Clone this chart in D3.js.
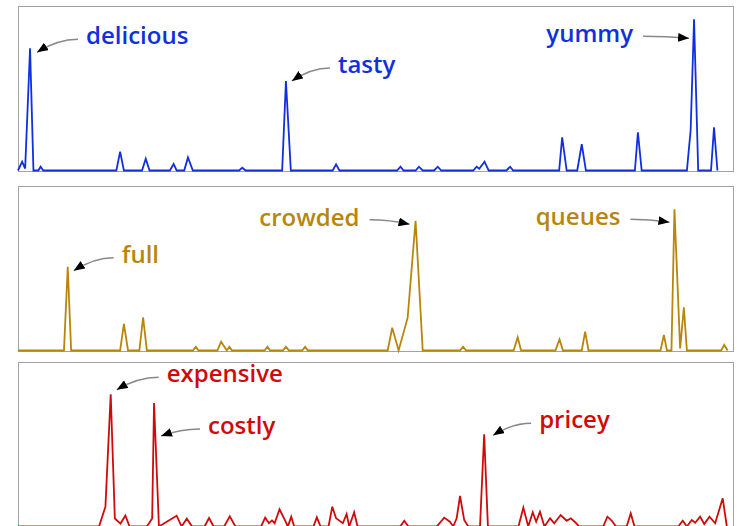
<!DOCTYPE html>
<html>
<head>
<meta charset="utf-8">
<script src="https://cdn.jsdelivr.net/npm/d3@7"></script>
<style>
  body { margin: 0; background: #fff; overflow: hidden; }
  .frame { fill: none; stroke: #a3a3a3; stroke-width: 1; }
  .word { font-family: "Open Sans", sans-serif; font-weight: 600; font-size: 24px; }
  .pointer { fill: none; stroke: #888; stroke-width: 1.5; }
</style>
</head>
<body>
<svg id="chart"></svg>
<script>
// mentions per day for each group of words (vertices of the traced line)
var tasteDays = [0, 1.1, 1.9, 3.2, 4.1, 5.4, 6.0, 6.7, 26.1, 27.1, 28.1, 32.9, 33.9, 34.9, 40.3, 41.3, 42.1,
  44.1, 45.1, 46.4, 58.7, 59.5, 60.4, 70.1, 71.1, 72.4, 83.5, 84.4, 85.3, 100.6, 101.5, 102.3, 105.5, 106.4,
  107.4, 110.4, 111.4, 112.3, 120.8, 121.7, 122.4, 123.8, 124.9, 129.6, 130.6, 131.4, 143.6, 144.4, 145.6,
  148.4, 149.6, 150.7, 163.7, 164.5, 165.5, 177.5, 178.5, 179.4, 180.5, 183.9, 184.7, 185.6];
var tasteValues = [0, 5.4, 1.2, 74.5, 0, 0, 2.3, 0, 0, 11.5, 0, 0, 7.2, 0, 0, 4, 0,
  0, 8, 0, 0, 1.7, 0, 0, 54.6, 0, 0, 3.8, 0, 0, 2.3, 0, 0, 2.3,
  0, 0, 2.3, 0, 0, 2.3, 1.1, 5.4, 0, 0, 2.3, 0, 0, 20.2, 0,
  0, 16, 0, 0, 23.3, 0, 0, 24.7, 92.2, 0, 0, 26.3, 0];

var crowdDays = [0, 12.2, 13.2, 14.1, 27.1, 28.1, 29.2, 32.2, 33.2, 34.2, 46.4, 47.2, 47.9, 52.9, 53.9,
  55.4, 56.1, 56.8, 65.4, 66.2, 66.9, 70.3, 71.1, 71.9, 75.4, 76.2, 76.9, 98.1, 99.3, 101.0, 103.4, 105.5,
  107.4, 117.3, 118.1, 118.9, 131.5, 132.6, 133.5, 142.6, 143.7, 144.6, 149.6, 150.5, 151.4, 170.5, 171.4,
  172.2, 173.4, 174.2, 175.7, 176.7, 177.5, 186.6, 187.4, 188.3];
var crowdValues = [0, 0, 51.1, 0, 0, 16.2, 0, 0, 20.2, 0, 0, 2.3, 0, 0, 5.4,
  0, 2.3, 0, 0, 2.3, 0, 0, 2.3, 0, 0, 2.3, 0, 0, 13.9, 0, 20, 79.1,
  0, 0, 2.3, 0, 0, 8, 0, 0, 6.8, 0, 0, 11.5, 0, 0, 9.5,
  0, 0, 86.1, 1.3, 26.3, 0, 0, 3.4, 0];

var priceDays = [0, 21.5, 23.2, 24.6, 25.7, 27.2, 28.5, 29.6, 34.2, 35.6, 36.1, 37.4, 42.1, 43.4, 44.8, 46.2,
  49.5, 50.7, 51.9, 54.7, 56.2, 57.7, 64.5, 65.6, 66.6, 67.4, 68.1, 69.4, 70.8, 71.6, 72.5, 73.3, 78.4, 79.3,
  80.3, 82.4, 83.4, 84.4, 86.2, 87.2, 87.9, 89.2, 90.1, 101.4, 102.5, 103.6, 111.1, 113.1, 114.6, 115.5, 116.4,
  117.3, 118.4, 119.5, 122.6, 123.7, 124.7, 132.8, 134.1, 135.4, 136.6, 137.5, 138.5, 139.7, 141.2, 142.3,
  144.0, 145.6, 146.7, 148.0, 148.9, 155.3, 156.4, 157.6, 158.7, 161.5, 162.6, 163.6, 175.2, 176.4, 177.5,
  178.8, 179.7, 181.0, 182.1, 183.5, 185.0, 187.0, 188.1];
var priceValues = [0, 0, 12.1, 80.6, 4.9, 1.8, 6.7, 0, 0, 4.9, 75.3, 0, 6.6, 0, 4.8, 0,
  0, 5.2, 0, 0, 6.2, 0, 0, 5.4, 2, 3.7, 2, 10.5, 4, 0, 6, 0, 0, 5.6,
  0, 0, 12.1, 5, 2, 7.6, 0, 8.7, 0, 0, 3.5, 0, 0, 5.4, 2.9, 0, 5,
  18.6, 4, 0, 0, 56.2, 0, 0, 11.5, 0, 8.7, 2.9, 9, 0, 5, 2,
  7, 3.5, 5, 2.3, 0, 0, 6, 3.5, 0, 0, 8, 0, 0, 3.5, 0,
  4, 2.3, 6, 1.5, 6, 2, 17.2, 0];

// words pointed at, and the peak each one marks
var tasteWords = ["delicious", "tasty", "yummy"];
var tastePeaks = [3, 24, 57];
var crowdWords = ["full", "crowded", "queues"];
var crowdPeaks = [2, 31, 49];
var priceWords = ["expensive", "costly", "pricey"];
var pricePeaks = [3, 10, 55];

var width = 738, height = 540;
var left = 18, right = 734, panelH = 165;
var panelTops = [6, 186, 362];
var colors = ["#1030e0", "#b8860b", "#d00a0a"];

// label offset from the peak (dx, dy, anchor) and arrow tip offset (tx, ty)
var placing = [
  [[56, -4, "start", 7, 4], [52, -8, "start", 6, 0], [-61, 23, "end", -5, 19]],
  [[54, -4, "start", 6, 4], [-56, 5, "end", -6, 3.5], [-54, 16, "end", -5, 13]],
  [[56, -12, "start", 6, -4.5], [54, 31, "start", 7, 33], [55, -6, "start", 9, 1]]
];

var svg = d3.select("#chart").attr("width", width).attr("height", height);

svg.append("defs").append("marker")
    .attr("id", "head")
    .attr("markerUnits", "userSpaceOnUse")
    .attr("viewBox", "0 0 10 8")
    .attr("refX", 10).attr("refY", 4)
    .attr("markerWidth", 11).attr("markerHeight", 9)
    .attr("orient", "auto")
  .append("path")
    .attr("d", "M0,0 L10,4 L0,8 Z")
    .attr("fill", "#000");

var x = d3.scaleLinear().domain([0, 190]).range([left, right]);

var panels = [
  { days: tasteDays, values: tasteValues, words: tasteWords, peaks: tastePeaks },
  { days: crowdDays, values: crowdValues, words: crowdWords, peaks: crowdPeaks },
  { days: priceDays, values: priceValues, words: priceWords, peaks: pricePeaks }
];

panels.forEach(function(p, k) {
    var top = panelTops[k];
    var y = d3.scaleLinear().domain([0, 100]).range([top + panelH - 0.5, top + 0.5]);
    var pts = p.days.map(function(d, i) { return [d, p.values[i]]; });

    svg.append("rect").attr("class", "frame")
        .attr("x", left + 0.5).attr("y", top + 0.5)
        .attr("width", right - left - 1).attr("height", panelH);

    var line = d3.line().x(function(d) { return x(d[0]); }).y(function(d) { return y(d[1]); });
    svg.append("path").datum(pts)
        .attr("d", line)
        .attr("fill", "none")
        .attr("stroke", colors[k])
        .attr("stroke-width", 1.8);

    p.words.forEach(function(w, j) {
        var pk = pts[p.peaks[j]];
        var px = x(pk[0]), py = y(pk[1]);
        var pl = placing[k][j];
        var lx = px + pl[0], ly = py + pl[1];
        var tip = [px + pl[3], py + pl[4]];
        var start = pl[2] == "start" ? [lx - 8, ly - 5] : [lx + 10, ly - 6];
        var ctrl = [start[0] + (tip[0] - start[0]) * 0.5, start[1]];

        svg.append("path").attr("class", "pointer")
            .attr("d", "M" + start + " Q" + ctrl + " " + tip)
            .attr("marker-end", "url(#head)");

        svg.append("text").attr("class", "word")
            .attr("x", lx).attr("y", ly)
            .attr("text-anchor", pl[2])
            .attr("fill", colors[k])
            .text(w);
    });
});
</script>
</body>
</html>
